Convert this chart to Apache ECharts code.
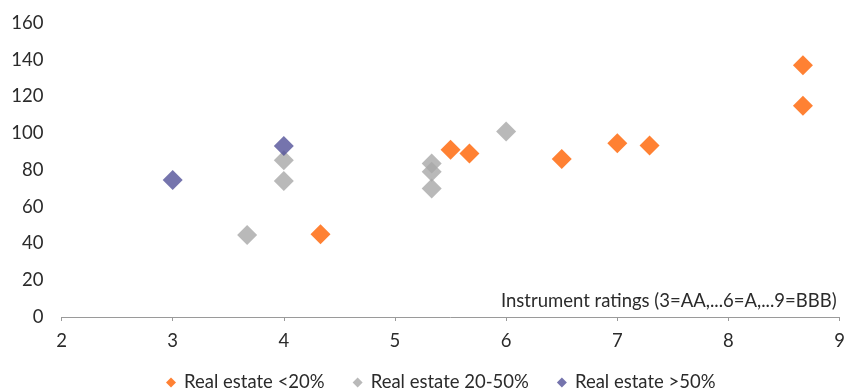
<!DOCTYPE html>
<html><head><meta charset="utf-8">
<script src="https://cdn.jsdelivr.net/npm/echarts@6/dist/echarts.min.js"></script>
<style>html,body{margin:0;padding:0;background:#fff}#c{width:848px;height:389px}</style>
</head><body><div id="c"></div>
<script>
const seriesNames = ['Real estate <20%', 'Real estate 20-50%', 'Real estate >50%'];
const lowX = [4.33, 5.5, 5.67, 6.5, 7.0, 7.29, 8.67, 8.67];
const lowY = [45, 91, 89, 86, 94.5, 93.3, 137, 115];
const midX = [3.67, 4.0, 4.0, 5.33, 5.33, 5.33, 6.0];
const midY = [44.6, 85.3, 74, 83.5, 79, 70, 101];
const highX = [3.0, 4.0];
const highY = [74.5, 93];
const xTicks = [2, 3, 4, 5, 6, 7, 8, 9];
const yTicks = [0, 20, 40, 60, 80, 100, 120, 140, 160];
const xName = 'Instrument ratings (3=AA,...6=A,...9=BBB)';

const colors = ['#FF6200', '#A8A8A8', '#525199'];
const pairs = (xs, ys) => xs.map((x, i) => [x, ys[i]]);
const font = 'Lato, "Noto Sans", sans-serif';
const fs = 18.5;
const chart = echarts.init(document.getElementById('c'));
chart.setOption({
  animation: false,
  textStyle: {fontFamily: font},
  grid: {left: 61.5, right: 6.5, top: 23, bottom: 72},
  xAxis: {
    type: 'value', min: xTicks[0], max: xTicks[xTicks.length - 1], interval: 1,
    splitLine: {show: false},
    axisLine: {lineStyle: {color: '#9a9a9a', width: 1}},
    axisTick: {show: true, length: 4, lineStyle: {color: '#9a9a9a'}},
    axisLabel: {color: '#2b2b2b', fontSize: fs, margin: 15, fontFamily: font},
    name: xName, nameLocation: 'end', nameGap: 0,
    nameTextStyle: {align: 'right', verticalAlign: 'bottom', color: '#2b2b2b', fontSize: fs, fontFamily: font, padding: [0, 3, 6, 0]}
  },
  yAxis: {
    type: 'value', min: yTicks[0], max: yTicks[yTicks.length - 1], interval: 20,
    splitLine: {show: false},
    axisLine: {show: false}, axisTick: {show: false},
    axisLabel: {color: '#2b2b2b', fontSize: fs, margin: 18, fontFamily: font}
  },
  legend: {
    top: 368, left: 161, icon: 'diamond', itemWidth: 10, itemHeight: 10, itemGap: 28,
    textStyle: {color: '#2b2b2b', fontSize: fs, fontFamily: font, padding: [0, 0, 0, 3]},
    data: seriesNames
  },
  series: [
    {name: seriesNames[0], type: 'scatter', symbol: 'diamond', symbolSize: 20, itemStyle: {color: colors[0]}, data: pairs(lowX, lowY)},
    {name: seriesNames[1], type: 'scatter', symbol: 'diamond', symbolSize: 20, itemStyle: {color: colors[1]}, data: pairs(midX, midY)},
    {name: seriesNames[2], type: 'scatter', symbol: 'diamond', symbolSize: 20, itemStyle: {color: colors[2]}, data: pairs(highX, highY)}
  ]
});
</script></body></html>
